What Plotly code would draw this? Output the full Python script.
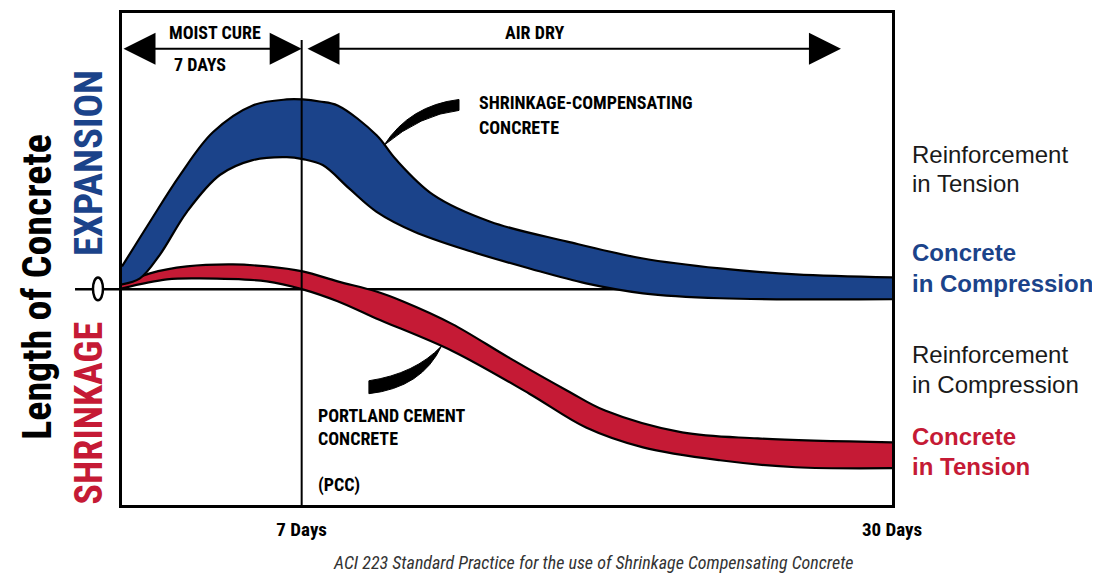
import plotly.graph_objects as go

# ---------------- data ----------------
blue_upper_days = [0, 1.09, 2.26, 3.54, 5.09, 6.42, 7.04, 7.7, 8.40, 9.92, 10.66, 12.13, 14.35, 17.35, 20.30, 23.30, 26.25, 30]
blue_upper = [0.23, 0.68, 1.15, 1.58, 1.85, 1.91, 1.91, 1.89, 1.85, 1.55, 1.31, 0.95, 0.68, 0.48, 0.31, 0.21, 0.15, 0.12]

blue_lower_days = [0, 0.70, 1.48, 2.53, 3.81, 5.09, 6.42, 7.04, 7.82, 8.87, 9.92, 11.39, 13.61, 15.87, 18.08, 20.30, 23.30, 30]
blue_lower = [0.05, 0.11, 0.35, 0.78, 1.15, 1.30, 1.33, 1.31, 1.25, 1.01, 0.78, 0.58, 0.38, 0.21, 0.06, -0.04, -0.09, -0.10]

red_upper_days = [0, 1.09, 2.53, 4.32, 5.64, 7.04, 8.40, 9.88, 10.93, 12.87, 15.09, 17.35, 18.82, 21.82, 24.77, 30]
red_upper = [0.05, 0.16, 0.23, 0.25, 0.23, 0.18, 0.08, -0.02, -0.12, -0.35, -0.69, -1.02, -1.22, -1.44, -1.50, -1.54]

red_lower_days = [0, 1.75, 3.03, 5.64, 7.04, 8.40, 9.88, 12.87, 15.87, 18.08, 20.30, 23.30, 26.25, 30]
red_lower = [0.01, 0.10, 0.11, 0.08, 0.0, -0.12, -0.29, -0.62, -1.05, -1.39, -1.59, -1.72, -1.79, -1.80]

tick_days = [7, 30]
tick_labels = ["7 Days", "30 Days"]

moist_cure_days = [0, 7]
air_dry_days = [7.17, 28.01]

BLUE = "#1b438a"
RED = "#c51a35"
COND = "Liberation Sans Narrow, Arial Narrow, Roboto Condensed, DejaVu Sans Condensed, sans-serif"
REG = "Liberation Sans, Arial, Helvetica, sans-serif"

fig = go.Figure()

line_k = dict(color="black", width=2.2, shape="spline", smoothing=1.0)

fig.add_trace(go.Scatter(x=red_lower_days, y=red_lower, mode="lines", line=line_k,
                         hoverinfo="skip", showlegend=False))
fig.add_trace(go.Scatter(x=red_upper_days, y=red_upper, mode="lines", line=line_k,
                         fill="tonexty", fillcolor=RED, hoverinfo="skip", showlegend=False))
fig.add_trace(go.Scatter(x=blue_lower_days, y=blue_lower, mode="lines", line=line_k,
                         hoverinfo="skip", showlegend=False))
fig.add_trace(go.Scatter(x=blue_upper_days, y=blue_upper, mode="lines", line=line_k,
                         fill="tonexty", fillcolor=BLUE, hoverinfo="skip", showlegend=False))

shapes = []
# zero line (behind bands)
shapes.append(dict(type="line", xref="paper", yref="y", x0=-0.061, x1=1, y0=0, y1=0,
                   line=dict(color="black", width=2.5), layer="below"))
# "0" ellipse
shapes.append(dict(type="circle", xref="paper", yref="y", x0=-0.0377, x1=-0.0247, y0=-0.11, y1=0.12,
                   line=dict(color="black", width=2.5), fillcolor="white", layer="above"))
# 7-day divider
shapes.append(dict(type="line", xref="x", yref="paper", x0=7, x1=7, y0=0, y1=0.945,
                   line=dict(color="black", width=2), layer="above"))
# leader wedges
shapes.append(dict(type="path", xref="x", yref="y",
                   path="M 10.21 1.45 Q 11.21 1.85 13.13 1.91 L 13.13 1.80 Q 11.65 1.76 10.21 1.45 Z",
                   fillcolor="black", line=dict(color="black", width=1), layer="above"))
shapes.append(dict(type="path", xref="x", yref="y",
                   path="M 12.45 -0.57 Q 11.42 -0.85 9.62 -0.92 L 9.62 -1.05 Q 11.69 -0.99 12.45 -0.57 Z",
                   fillcolor="black", line=dict(color="black", width=1), layer="above"))

ann = []
# double-headed arrows
for (a, b) in [moist_cure_days, air_dry_days]:
    ann.append(dict(x=b, y=2.42, ax=a, ay=2.42, xref="x", yref="y", axref="x", ayref="y",
                    text="", showarrow=True, arrowhead=2, arrowsize=3.2, arrowwidth=2,
                    startarrowhead=2, startarrowsize=3.2, arrowside="end+start", arrowcolor="black"))

def txt(x, y, s, size=18, color="black", font=COND, xanchor="center", xref="x", yref="y", **kw):
    ann.append(dict(x=x, y=y, xref=xref, yref=yref, text=s, showarrow=False, xanchor=xanchor,
                    yanchor="middle", font=dict(family=font, size=size, color=color), **kw))

txt(3.62, 2.58, "<b>MOIST CURE</b>")
txt(3.04, 2.26, "<b>7 DAYS</b>")
txt(16.09, 2.58, "<b>AIR DRY</b>")
txt(13.83, 1.88, "<b>SHRINKAGE-COMPENSATING</b>", xanchor="left")
txt(13.83, 1.63, "<b>CONCRETE</b>", xanchor="left")
txt(7.56, -1.27, "<b>PORTLAND CEMENT</b>", xanchor="left")
txt(7.56, -1.50, "<b>CONCRETE</b>", xanchor="left")
txt(7.56, -1.97, "<b>(PCC)</b>", xanchor="left")

# side titles
txt(-0.110, 0.444, "<b>Length of Concrete</b>", size=40, xref="paper", yref="paper", textangle=-90)
txt(-0.0429, 0.695, "<b>EXPANSION</b>", size=39, color=BLUE, xref="paper", yref="paper", textangle=-90)
txt(-0.0429, 0.188, "<b>SHRINKAGE</b>", size=38, color=RED, xref="paper", yref="paper", textangle=-90)

# right-hand labels
rx = (910 - 122) / 770
def py(p):
    return (505 - p) / 495
txt(rx, py(152), "Reinforcement", size=24, font=REG, color="#1a1a1a", xanchor="left", xref="paper", yref="paper")
txt(rx, py(182), "in Tension", size=24, font=REG, color="#1a1a1a", xanchor="left", xref="paper", yref="paper")
txt(rx, py(251), "<b>Concrete</b>", size=24, font=REG, color=BLUE, xanchor="left", xref="paper", yref="paper")
txt(rx, py(282), "<b>in Compression</b>", size=24, font=REG, color=BLUE, xanchor="left", xref="paper", yref="paper")
txt(rx, py(354), "Reinforcement", size=24, font=REG, color="#1a1a1a", xanchor="left", xref="paper", yref="paper")
txt(rx, py(384), "in Compression", size=24, font=REG, color="#1a1a1a", xanchor="left", xref="paper", yref="paper")
txt(rx, py(436), "<b>Concrete</b>", size=24, font=REG, color=RED, xanchor="left", xref="paper", yref="paper")
txt(rx, py(466), "<b>in Tension</b>", size=24, font=REG, color=RED, xanchor="left", xref="paper", yref="paper")

# caption
txt(0.6117, py(563), "<i>ACI 223 Standard Practice for the use of Shrinkage Compensating Concrete</i>",
    size=18, color="#333333", xref="paper", yref="paper")

# page body has an 8px margin, so the figure is 8px smaller and its margins shifted by 8px
fig.update_layout(
    width=1092, height=567,
    margin=dict(l=114, r=208, t=2, b=70),
    paper_bgcolor="white", plot_bgcolor="rgba(0,0,0,0)",
    shapes=shapes, annotations=ann, showlegend=False,
    xaxis=dict(range=[0, 30], showgrid=False, zeroline=False, showline=True, mirror=True,
               linecolor="black", linewidth=3, tickvals=tick_days, ticktext=tick_labels,
               ticks="", ticklabelstandoff=5,
               tickfont=dict(family=COND, size=19, color="black", weight="bold")),
    yaxis=dict(range=[-2.17, 2.78], showgrid=False, zeroline=False, showline=True, mirror=True,
               linecolor="black", linewidth=3, showticklabels=False, ticks=""),
)

fig.write_html("out.html")
